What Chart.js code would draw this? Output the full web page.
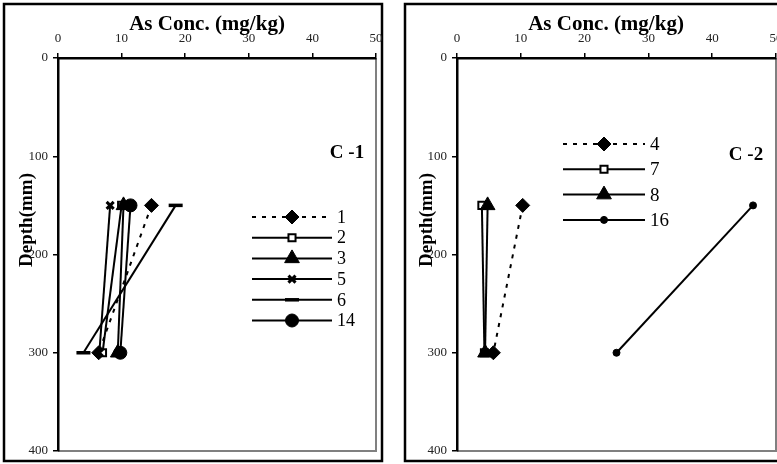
<!DOCTYPE html>
<html>
<head>
<meta charset="utf-8">
<script src="https://cdn.jsdelivr.net/npm/chart.js@4/dist/chart.umd.min.js"></script>
<style>
  html, body { margin: 0; padding: 0; background: #fff; width: 777px; height: 464px; overflow: hidden; }
  #c1 { position: absolute; left: 0; top: 0; }
  #c2 { position: absolute; left: 395px; top: 0; }
</style>
</head>
<body>
<canvas id="c1" width="390" height="464"></canvas>
<canvas id="c2" width="400" height="464"></canvas>
<script>
// ---- data ----
const depths = [150, 300];              // depth (mm)
const xTicks = [0, 10, 20, 30, 40, 50]; // As Conc. ticks
const yTicks = [0, 100, 200, 300, 400]; // depth ticks

// Core C-1
const c1Names = ['1', '2', '3', '5', '6', '14'];
const c1_s1  = [14.7, 6.4];
const c1_s2  = [10.0, 7.0];
const c1_s3  = [10.3, 9.4];
const c1_s5  = [8.2, 6.5];
const c1_s6  = [18.5, 4.0];
const c1_s14 = [11.4, 9.8];

// Core C-2
const c2Names = ['4', '7', '8', '16'];
const c2_s4  = [10.3, 5.7];
const c2_s7  = [3.9, 4.3];
const c2_s8  = [4.8, 4.4];
const c2_s16 = [46.4, 25.0];

const serif = '"Liberation Serif", "Times New Roman", serif';

const styles = {
  diamond:  { pointStyle: 'rectRot',  radius: 7,   bg: '#000', bw: 1,   dash: [4, 6] },
  square:   { pointStyle: 'rect',     radius: 5,   bg: '#fff', bw: 2,   dash: [] },
  triangle: { pointStyle: 'triangle', radius: 8.5, bg: '#000', bw: 1,   dash: [] },
  cross:    { pointStyle: 'crossRot', radius: 5,   bg: '#000', bw: 3,   dash: [] },
  dash:     { pointStyle: 'line',     radius: 7,   bg: '#000', bw: 3.5, dash: [] },
  circle:   { pointStyle: 'circle',   radius: 6.5, bg: '#000', bw: 1,   dash: [] },
  dot:      { pointStyle: 'circle',   radius: 3.5, bg: '#000', bw: 1,   dash: [] }
};

function makeDataset(name, values, st, idx, count) {
  return {
    label: name,
    data: values.map((v, i) => ({ x: v, y: depths[i] })),
    showLine: true,
    order: count - idx,          // later series drawn on top
    borderColor: '#000',
    borderWidth: 2,
    borderDash: st.dash,
    pointStyle: st.pointStyle,
    pointRadius: st.radius,
    pointHoverRadius: st.radius,
    pointBackgroundColor: st.bg,
    pointBorderColor: '#000',
    pointBorderWidth: st.bw,
    _st: st
  };
}

const c1Vals = [c1_s1, c1_s2, c1_s3, c1_s5, c1_s6, c1_s14];
const c1Sty = [styles.diamond, styles.square, styles.triangle, styles.cross, styles.dash, styles.circle];
const c1Sets = c1Names.map((n, i) => makeDataset(n, c1Vals[i], c1Sty[i], i, c1Names.length));

const c2Vals = [c2_s4, c2_s7, c2_s8, c2_s16];
const c2Sty = [styles.diamond, styles.square, styles.triangle, styles.dot];
const c2Sets = c2Names.map((n, i) => makeDataset(n, c2Vals[i], c2Sty[i], i, c2Names.length));

function drawMarker(ctx, st, x, y) {
  ctx.save();
  ctx.setLineDash([]);
  ctx.fillStyle = st.bg;
  ctx.strokeStyle = '#000';
  ctx.lineWidth = st.bw;
  if (Chart.helpers && Chart.helpers.drawPoint) {
    Chart.helpers.drawPoint(ctx, { pointStyle: st.pointStyle, radius: st.radius, borderWidth: st.bw, rotation: 0 }, x, y);
  } else {
    ctx.beginPath(); ctx.arc(x, y, st.radius, 0, Math.PI * 2); ctx.fill(); ctx.stroke();
  }
  ctx.restore();
}

function framePlugin(cfg) {
  return {
    id: 'frame',
    beforeDraw(chart) {
      const ctx = chart.ctx, a = chart.chartArea;
      ctx.save();
      ctx.fillStyle = '#fff';
      ctx.fillRect(0, 0, chart.width, chart.height);
      // panel border
      ctx.strokeStyle = '#000';
      ctx.lineWidth = 2.5;
      ctx.strokeRect(cfg.frame[0], cfg.frame[1], cfg.frame[2], cfg.frame[3]);
      // plot area right / bottom edges
      ctx.strokeStyle = '#808080';
      ctx.lineWidth = 2;
      ctx.beginPath();
      ctx.moveTo(a.right, a.top);
      ctx.lineTo(a.right, a.bottom);
      ctx.lineTo(a.left, a.bottom);
      ctx.stroke();
      ctx.restore();
    },
    afterDraw(chart) {
      const ctx = chart.ctx, a = chart.chartArea;
      ctx.save();
      ctx.fillStyle = '#000';
      // x title
      ctx.font = 'bold 21px ' + serif;
      ctx.textAlign = 'center';
      ctx.textBaseline = 'middle';
      ctx.fillText('As Conc. (mg/kg)', a.left + 149, 25);
      // y title
      ctx.font = 'bold 19px ' + serif;
      ctx.save();
      ctx.translate(a.left - cfg.yTitleOff, 220);
      ctx.rotate(-Math.PI / 2);
      ctx.fillText('Depth(mm)', 0, 0);
      ctx.restore();
      // core label
      ctx.font = 'bold 19px ' + serif;
      ctx.fillText(cfg.core, a.right - cfg.coreOff, cfg.coreY);
      // legend
      const L = cfg.legend;
      chart.data.datasets.forEach((ds, i) => {
        const y = L.y0 + i * L.dy;
        const st = ds._st;
        ctx.save();
        ctx.strokeStyle = '#000';
        ctx.lineWidth = 2;
        ctx.setLineDash(st.dash);
        ctx.beginPath();
        ctx.moveTo(a.left + L.x1, y);
        ctx.lineTo(a.left + L.x2, y);
        ctx.stroke();
        ctx.restore();
        drawMarker(ctx, st, a.left + (L.x1 + L.x2) / 2, y);
        ctx.font = L.font + 'px ' + serif;
        ctx.textAlign = 'left';
        ctx.textBaseline = 'middle';
        ctx.fillStyle = '#000';
        ctx.fillText(ds.label, a.left + L.x2 + 5, y + 1);
      });
      ctx.restore();
    }
  };
}

function makeChart(id, sets, yAxisWidth, padRight, cfg) {
  return new Chart(document.getElementById(id), {
    type: 'scatter',
    data: { datasets: sets },
    options: {
      responsive: false,
      animation: false,
      events: [],
      layout: { padding: { left: 0, top: 0, right: padRight, bottom: 13 } },
      plugins: { legend: { display: false }, tooltip: { enabled: false }, title: { display: false } },
      scales: {
        x: {
          type: 'linear',
          position: 'top',
          min: xTicks[0], max: xTicks[xTicks.length - 1],
          afterBuildTicks: s => { s.ticks = xTicks.map(v => ({ value: v })); },
          afterFit: s => { s.height = 58; },
          ticks: { autoSkip: false, maxRotation: 0, padding: 7, color: '#222', font: { family: serif, size: 13 } },
          grid: { drawOnChartArea: false, drawTicks: true, tickLength: 5, color: '#000', lineWidth: 1.5 },
          border: { display: true, color: '#000', width: 2.5 }
        },
        y: {
          type: 'linear',
          position: 'left',
          reverse: true,
          min: yTicks[0], max: yTicks[yTicks.length - 1],
          afterBuildTicks: s => { s.ticks = yTicks.map(v => ({ value: v })); },
          afterFit: s => { s.width = yAxisWidth; },
          ticks: { autoSkip: false, padding: 5, color: '#222', font: { family: serif, size: 13 } },
          grid: { drawOnChartArea: false, drawTicks: true, tickLength: 5, color: '#000', lineWidth: 1.5 },
          border: { display: true, color: '#000', width: 2.5 }
        }
      }
    },
    plugins: [framePlugin(cfg)]
  });
}

makeChart('c1', c1Sets, 58, 14, {
  frame: [4, 4, 378, 457],
  yTitleOff: 31,
  core: 'C -1', coreOff: 29, coreY: 153,
  legend: { x1: 194, x2: 274, y0: 217, dy: 20.7, font: 18 }
});
makeChart('c2', c2Sets, 62, 19, {
  frame: [10, 4, 420, 457],
  yTitleOff: 30,
  core: 'C -2', coreOff: 30, coreY: 155,
  legend: { x1: 106, x2: 188, y0: 144, dy: 25.3, font: 19 }
});
</script>
</body>
</html>
